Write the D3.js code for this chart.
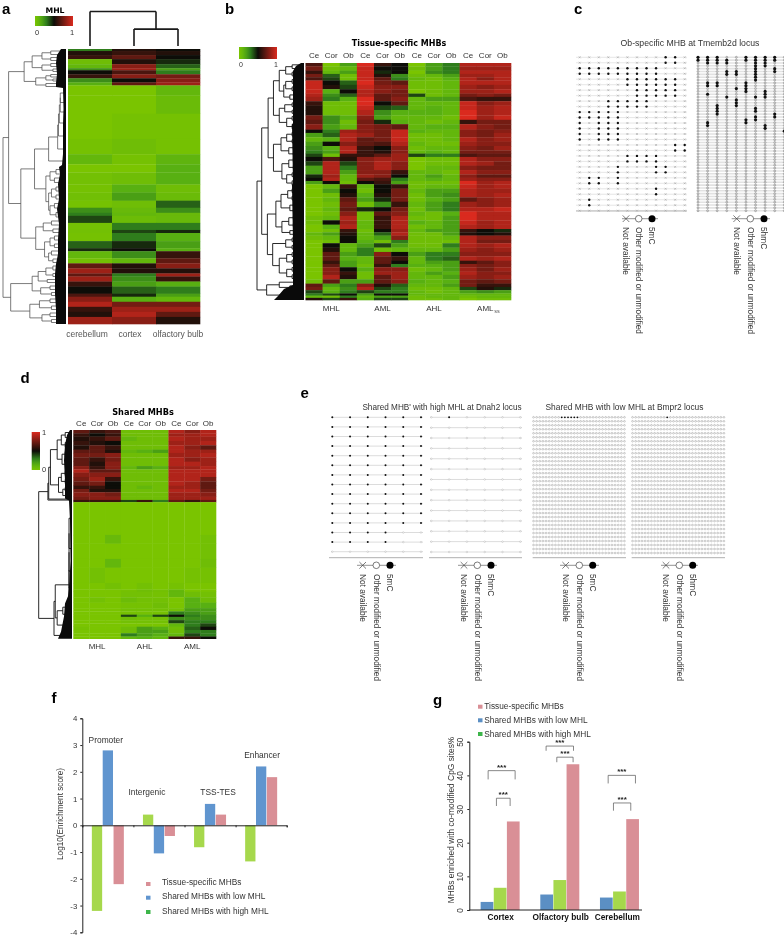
<!DOCTYPE html>
<html><head><meta charset="utf-8">
<style>html,body{margin:0;padding:0;background:#fff}svg{display:block;filter:blur(.3px)}text{font-family:"Liberation Sans",Arial,sans-serif;fill:#333}</style>
<script src="https://cdn.jsdelivr.net/npm/d3@7"></script></head><body><svg id="c" width="784" height="938"></svg>
<script>
// ---- panel a data
const aColumns=["cerebellum","cortex","olfactory bulb"];
const aSpans=[2,4,4,5,4,2,4,4,4,3,10,18,25,15,10,8,12,8,8,7,5,3,7,7,3,8,7,3,7,5,5,5,3,5,5,7,3,5,5,5,5,7];
const aCere=[3,5.5,6,.5,1,2.5,5,6,2.5,1.5,0,0,0,.2,1,0,.3,.2,.4,.2,2.5,3,4,.3,.3,.2,3.5,4.5,1,.3,7,8.5,7,8.5,6,5,6.5,8,9,6,5.5,8.5];
const aCor=[5.5,6,7,5.5,8,8.5,6.5,8,5,7,0,0,.2,.5,.2,0,.5,1.5,2,.5,.8,1,.6,3,4,3,4.5,5,2.5,1,5.5,5.5,3,2.5,2,3.5,4.5,1.5,7.5,8.5,9,8];
const aOb=[5,5.5,5,4.5,3.5,2,3,7.5,8,8.5,1,.7,.2,.2,1.2,1.5,1.5,.5,.7,3.5,2.5,.8,.8,3,4.5,1.5,2,1.5,6,7,8,5.5,8.5,6,1.5,3,2,1,7.5,8.5,7,5.5];
const treeA=[100,
 [89,
  [60,[46,[30,[17,4,3],[17,3,3]],[30,[17,3,3],[14,2,3]]],[40,[24,[17,3,2],[14,2,2]],[24,3,3]]],
  [66,
   [42,
    [20,[8,[7,[6,[5,[5,10,9],10],12],14],12],12],
    [24,[18,[10,5,4],[12,4,5]],[20,[16,[10,4,4],[10,4,4]],[18,[12,5,4],[10,5,4]]]]],
   [40,[28,[16,4,4],[14,4,3]],[26,[18,[12,4,4],[12,4,3]],[20,[16,4,4],[14,4,3]]]]]],
 [85,
  [46,[36,[24,[14,4,4],[14,3,3]],[22,3,3]],[32,[18,4,3],[16,3,3]]],
  [50,[34,[18,4,3],[16,4,3]],[30,[18,4,3],[16,3,3]]]]];
const treeAColumns=[100,1,[49,1,1]];
const aFringe=[[0,5],[6,9],[14,10],[25,9],[34,10],[38,10],[39,3],[60,2.5],[75,3],[90,3],[105,3],[116,4],[118,7],[125,6],[135,8],[150,7],[160,9],[175,7],[190,8],[205,8],[215,10],[225,11],[245,11],[260,10],[275,10]];
// ---- panel b data
const bColumns=["Ce","Cor","Ob","Ce","Cor","Ob","Ce","Cor","Ob","Ce","Cor","Ob"];
const bGroups=["MHL","AML","AHL","AML"];
const bSpans=[3,4,3,3,3,4,4,4,3,4,4,4,5,4,4,5,3,4,4,4,4,3,3,4,4,4,4,3,3,3,4,4,4,4,5,4,4,4,4,4,3,3,4,3,4,4,4,4,3,3,4,3,4,4,3,3,3,2,2,2];
const bRows=[
[6.5,0,2,10,6,5,0,2,3,9,9,9],[7.5,.5,1,9.5,5,5,.5,2,3,8.5,8.5,8.5],[6,1,2,9.5,4.5,5,0,2.5,3,9,9,9],[7.5,3.5,.5,9.5,5.5,2.5,.5,1,2,8.5,8.5,9],
[6.5,4,.5,9.5,7,3,1,.5,1.5,9,8,9],[9.5,5,3.5,10,7.5,7,.5,.5,1,9,9,9],[9.5,5.5,4,9.5,8,8,.5,.5,1,8.5,8,8.5],[9.5,1.5,5,9,8,7.5,0,.5,1,8.5,8.5,9],
[9,2.5,3.5,9,7,7.5,4,.5,1,7.5,8,7.5],[8.5,3,1.5,10,7,8,1,2,2,6.5,6,6],[6,.5,.5,10,5,7,1,1,1,9.5,8,8.5],[5.5,.5,.5,9.5,4,3.5,1,1.5,1,9.5,8.5,9],
[5.5,.5,.5,9,2.5,1.5,1.5,1.5,1,10,8.5,9],[7.5,2.5,1.5,8,2,1,1,1,.5,10,8.5,9.5],[7,2.5,.5,7.5,4.5,1.5,1,.5,1,6,7.5,7.5],[8,2,1,8,7.5,7,1,1.5,1.5,9,8,7.5],
[5,3,8.5,8,7.5,9.5,1.5,1,1,8,7.5,8],[2,3.5,9,8.5,7.5,9.5,.5,.5,1,8,7.5,8.5],[1,1.5,9,7,7.5,9.5,.5,.5,1,9,8,8.5],[2,5,8,7,6.5,9,1,.5,.5,8.5,8,8],
[2.5,1.5,9,6,5,8,.5,1,1,8,7.5,8.5],[3,2,9,6,5.5,8,1,1.5,1,7.5,7.5,7.5],[4,.5,6,6,7,8.5,4,3,3,6.5,7,7],[5,6.5,5.5,8,8.5,8.5,0,.5,.5,9,8,8],
[4,9,4,8,9,8,0,.5,.5,9,8.5,7.5],[2,9,3,8,9,8,0,1,1,8,7.5,7.5],[2,9,2,8,8,6,1,1,.5,9,8,8],[4.5,8.5,1,8.5,8,5,1,2,1,8,7,7],
[5,9,1,7,6.5,3,1,1.5,1,8.5,8,8],[2,5,.5,5,6,2,.5,.5,.5,10,8.5,9],[0,1,6,1,5,6,.5,1,1,9.5,8.5,9],[0,2,5,.5,5,7.5,1,2,2,9,8.5,8.5],
[0,.5,5.5,1.5,5.5,7.5,.5,2,2.5,9,8.5,9],[0,1,7,2,4.5,7.5,.5,1.5,2,7,8,8.5],[0,.5,7.5,.5,2.5,6,1,2,3,8.5,8,8.5],[0,1,7,4.5,5,7.5,.5,2,3,9,9,9.5],
[0,.5,8,.5,7,8,1,.5,1.5,10,9,9],[.5,1,9,.5,6,9,.5,.5,2,10,9,9],[.5,5,8.5,1,6,9,1.5,1,2,9.5,8.5,9],[0,1.5,9,1,6,9,.5,1,2,9,8.5,9],
[0,.5,6,.5,5,8.5,1,2,2,6,5,4.5],[1,2,5.5,1,3.5,9,.5,.5,2,5.5,5,5.5],[.5,1,5,1,2,8,.5,.5,1,9,8,8],[0,.5,5,1.5,.5,3,.5,.5,.5,9,7.5,7.5],
[0,5,1,2,4,2,.5,.5,3,9,8.5,9],[0,5.5,1,3,.5,1,1,1,2,8.5,8,8.5],[0,7,2,3,8,5,2,3,3,8,8,8],[0,7,1.5,1,7,6,1,3,3.5,9,8.5,9],
[0,6,2,1,7,5,1,2,2,6,7,8],[0,7,2,.5,6,3,1.5,1.5,2,8,7.5,8],[0,8,5,1.5,8,8,.5,1,2,8.5,7.5,8.5],[0,8,6,.5,8.5,8.5,1,2,1.5,9,8,8],
[0,9,5.5,.5,7,8.5,1,1,2,8.5,8,8.5],[.5,7,2,2,7,8,1.5,1,1.5,7.5,7,7.5],[7,2,3,8,5.5,3.5,1,1,2,7.5,6,6],[7.5,1,2.5,9,4,3,.5,.5,1,4,5.5,4.5],
[4,1.5,3,4,3,3,1,.5,1,2,2.5,2],[3,4,5,2,5,5,1,1,1,1,1,1],[1,.5,3,1,2,2,.5,1,1,.5,1,1],[5.5,4,6,1.5,4,4,.5,.5,1,0,.5,.5]];
const treeB=[100,
 [86,
  [68,
   [54,
    [40,[26,[14,3,3],[14,3,3]],[30,[26,[14,3,3],[14,3,3]],[18,4,3]]],
    [40,[28,[14,3,3],[14,3,2]],[24,[14,3,3],[14,4,3]]]],
   [54,
    [36,[24,[14,3,3],[14,3,2]],[20,[12,3,3],[12,2,2]]],
    [34,[20,[12,3,3],[12,3,3]],[24,[14,3,3],[14,4,3]]]]],
  [70,
   [48,[36,[22,[14,3,3],[14,3,3]],[18,[12,3,2],[12,2,3]]],[34,[20,[12,3,3],[12,3,3]],[18,3,3]]],
   [56,[26,[14,3,3],[14,3,3]],[40,[24,[14,3,3],[14,3,3]],[24,[14,3,3],[14,3,3]]]]]],
 [72,[40,3,[18,3,2]],[30,[16,2,2],[14,2,2]]]];
const bFringe=[[0,3],[3,8],[8,11],[60,11],[62,12],[120,11],[122,12],[180,11],[222,11],[226,20],[233,26],[237,30]];
// ---- panel d data
const dColumns=["Ce","Cor","Ob","Ce","Cor","Ob","Ce","Cor","Ob"];
const dGroups=["MHL","AHL","AML"];
const dSpans=[3,3,4,4,4,3,4,4,4,3,3,4,4,4,3,3,4,3,2,30,8,14,8,14,6,2,5,5,5,3,3,2,3,3,3,3,3,3,2];
const dRows=[
[7,6,6.5,.5,.5,.5,9,8,9],[6,5,6,.5,.5,.5,8.5,8.5,9],[5.5,6,7,1,.5,.5,9,8.5,8.5],[6,5.5,5,.5,.5,.5,8.5,8.5,9],[5.5,7,6,.5,.5,.5,9,8,7],
[7,7,5.5,1,1.5,2,9,8.5,8.5],[7.5,7.5,8,.5,.5,.5,8.5,8.5,9],[7,6,7.5,.5,.5,.5,9,8,8.5],[7,5.5,8,.5,.5,.5,9,9,8.5],[8,6,8,1,2,1.5,8.5,8.5,9],
[9,7,7,.5,.5,.5,9,9,9],[8,8,8,.5,.5,.5,9,9,9],[7.5,8.5,6,.5,.5,.5,9,9,7.5],[7,7.5,5,.5,.5,.5,9,8.5,7],[6,6,5,.5,1,.5,8.5,8.5,7],
[7.5,5.5,5.5,.5,.5,.5,9,9,7.5],[8,8,7.5,.5,.5,.5,8.5,8.5,8],[7.5,8,8,.5,.5,.5,8.5,8.5,8.5],[6,6,6,4,6,3,7,6,7],
[0,0,0,0,0,0,0,0,0],[0,0,.8,0,0,0,0,0,.3],[0,0,0,0,0,0,0,0,.3],[0,0,1,0,0,0,0,0,.5],[0,.3,0,0,0,0,0,.2,.2],[0,0,.3,0,.3,0,.2,0,0],
[0,0,0,.2,.5,.3,1,0,0],[0,0,0,.3,.3,.2,1,.5,.3],[0,.3,0,.6,.3,.3,0,1.5,.5],[0,0,0,.2,.2,.5,0,1.5,1.5],[0,0,0,.3,.3,.3,.3,2,2],
[0,0,0,.2,.2,.2,3,2.5,2],[0,0,0,4,1.5,4,5,3,2.5],[0,0,0,.5,.3,.3,2.5,2.5,2.5],[0,0,0,.3,.3,.3,4,3,3],[0,0,0,0,0,0,1,3,4],
[.2,0,0,.5,2,1.5,.5,3.5,5],[0,0,0,.5,2,2,.5,3,3],[0,0,0,3,2,1.5,1,4,3],[0,0,0,1,1.5,1,6,6,5]];
const treeD=[100,
 [65,[62,[56,
   [34,[22,[12,5,5],[12,5,4]],[20,[12,5,5],[10,5,5]]],
   [30,[22,[12,4,4],[12,4,4]],[18,[12,4,3],[10,3,3]]]],1],1],
 [44,[40,[4,[4,[4,[4,35,25],20],14],8],
   [34,[18,[10,4,3],[10,4,3]],[16,[10,4,4],[8,3,3]]]],
   [16,[8,2,2],3]]];
const dFringe=[[0,2],[5,5],[15,7],[30,8],[50,7],[68,7],[70,3],[90,2],[130,1.5],[150,2.5],[165,4],[172,7],[185,8],[200,11],[207,14]];
// ---- panels c and e: per-read lists of methylated CpG indices
const cLeftFilled=[[9,10],[9,10],[0,1,2,3,4,5,6,7,8],[0,1,2,3,4,5,6,7,8],[5,6,7,8,9,10],[5,6,7,8,9,10],[6,7,8,9,10],[6,7,8,9,10],[3,4,5,6,7],[3,4,5,6,7],
 [0,1,2,3,4],[0,1,2,3,4],[0,2,3,4],[0,2,3,4],[0,2,3,4],[0,2,3,4],[10,11],[10,11],[5,6,7,8],[5,6,7,8],[4,8,9],[4,8,9],[1,2,4],[1,2,4],[8],[8],[1],[1],[]];
const cRightFilledByColumn=[[0,1],[0,1,2,9,10,13,23,24],[0,1,2,9,10,17,18,19,20],[1,2,5,6,14],[5,6,11,15,16,17],[0,1,9,10,11,12,22,23],[0,1,2,3,4,5,6,7,8,14,18,19,21,22],[0,1,2,3,12,13,14,24,25],[0,1,4,5,20,21],[26]];
const e1Filled=[6,6,6,6,6,6,6,6,6,6,6,6,4,4,0];
const e2FilledRow=[1];
const e3FilledTop=[9,10,11,12,13,14];
const e4FilledTop=[11];
const legendMC=["Not available","Other modified or unmodified","5mC"];
const legendHMC=["Not available","Other modified or unmodified","5hmC"];
// ---- panel f data
const fCategories=["Promoter","Intergenic","TSS-TES","Enhancer"];
const fHigh=[-3.2,.4,-.82,-1.35];
const fLow=[2.8,-1.05,.8,2.2];
const fTissue=[-2.2,-.4,.4,1.8];
const fLabelLevel=[3.18,1.23,1.23,2.6];
const seriesNames=["Tissue-specific MHBs","Shared MHBs with low MHL","Shared MHBs with high MHL"];
// ---- panel g data
const gCategories=["Cortex","Olfactory bulb","Cerebellum"];
const gLow=[2.4,4.6,3.7];
const gHigh=[6.6,8.9,5.5];
const gTissue=[26.3,43.3,27];
const yTicksF=[-4,-3,-2,-1,0,1,2,3,4];
const yTicksG=[0,10,20,30,40,50];

// ---- drawing
const svg=d3.select("#c");
const heat=d3.scaleLinear().domain([0,1.5,3,5,10]).range(["#7ac400","#58b012","#2f7d1c","#0d0d08","#da2a1e"]);
function txt(x,y,s,o={}){
 const t=svg.append("text").attr("x",x).attr("y",y).text(s).attr("font-size",o.size||8)
  .attr("text-anchor",o.anchor||"middle");
 if(o.weight)t.attr("font-weight",o.weight);
 if(o.family)t.style("font-family",o.family);
 if(o.fill)t.style("fill",o.fill);
 if(o.rot!==undefined)t.attr("transform",`rotate(${o.rot} ${x} ${y})`);
 return t;
}
function heatmap(rows,spans,x0,x1,y0,y1){
 const n=rows[0].length;
 const x=d3.scaleBand().domain(d3.range(n)).range([x0,x1]);
 const cum=d3.cumsum(spans);
 const y=d3.scaleLinear().domain([0,cum[cum.length-1]]).range([y0,y1]);
 rows.forEach((r,i)=>{
  const top=y(i?cum[i-1]:0),bot=y(cum[i]);
  svg.append("g").selectAll("rect").data(r).join("rect")
   .attr("x",(d,j)=>x(j)).attr("width",x.bandwidth()+.3).attr("y",top).attr("height",bot-top+.3)
   .attr("fill",d=>heat(d));
 });
 return x;
}
function layout(node,st){
 if(typeof node==="number"){const s=st.c;st.c+=node;return{span:node,a:s,b:st.c,p:s+node/2};}
 const kids=node.slice(1).map(k=>layout(k,st));
 return{h:node[0],kids,p:(kids[0].p+kids[kids.length-1].p)/2};
}
function tree(spec,o){
 const st={c:0};const root=layout(spec,st);
 const pos=d3.scaleLinear().domain([0,st.c]).range(o.range);
 const depth=d3.scalePow().exponent(o.exp||1).domain([0,100]).range(o.depth);
 const pt=o.top?(h,p)=>[pos(p),depth(h)]:(h,p)=>[depth(h),pos(p)];
 const path=d3.path();
 (function walk(n){
  if(!n.kids)return;
  const a=pt(n.h,n.kids[0].p),b=pt(n.h,n.kids[n.kids.length-1].p);
  path.moveTo(...a);path.lineTo(...b);
  n.kids.forEach(k=>{
   const s=pt(n.h,k.p),e=pt(k.kids?k.h:0,k.p);
   path.moveTo(...s);path.lineTo(...e);
   walk(k);
  });
 })(root);
 const g=svg.append("g");
 g.append("path").attr("d",path.toString()).attr("fill","none").attr("stroke",o.stroke||"#111").attr("stroke-width",o.width||.8);
 if(o.fringe){
  const fy=d3.scaleLinear().domain([0,o.fringe[o.fringe.length-1][0]]).range(o.range);
  g.append("path").attr("fill","#0a0a0a").attr("d",d3.area().x0(o.edge).x1(d=>o.edge-d[1]).y(d=>fy(d[0]))(o.fringe));
 }
}
const defs=svg.append("defs");
function grad(id,vertical){
 const g=defs.append("linearGradient").attr("id",id);
 if(vertical)g.attr("x1",0).attr("y1",1).attr("x2",0).attr("y2",0);
 d3.range(0,11).forEach(v=>g.append("stop").attr("offset",v/10).attr("stop-color",heat(v)));
}
grad("gh",false);grad("gv",true);

// panel letters
[["a",2,13.5],["b",225,14],["c",574,13.5],["d",20.5,383],["e",300.5,398],["f",51.5,703],["g",433,705]].forEach(d=>
 txt(d[1],d[2],d[0],{size:15,weight:"bold",anchor:"start",fill:"#000"}));

// panel a
svg.append("rect").attr("x",35).attr("y",16).attr("width",38).attr("height",10).attr("fill","url(#gh)");
txt(55,13,"MHL",{size:7.7,weight:"bold",family:"DejaVu Sans",fill:"#000"});
txt(37,35,"0",{size:7.5});txt(72,35,"1",{size:7.5});
tree(treeAColumns,{top:true,range:[68,200],depth:[46,11.5],width:1.6,stroke:"#1a1a1a"});
heatmap(d3.zip(aCere,aCor,aOb),aSpans,68,200,49,324);
tree(treeA,{range:[49,324],depth:[66,3],exp:.8,edge:66,fringe:aFringe,stroke:"#444",width:.7});
[87,130,178].forEach((x,i)=>txt(x,337,aColumns[i],{size:8.5,fill:"#555"}));

// panel b
svg.append("rect").attr("x",239).attr("y",47).attr("width",38).attr("height",12).attr("fill","url(#gh)");
txt(241,67,"0",{size:7});txt(276,67,"1",{size:7});
txt(399,46,"Tissue-specific MHBs",{size:8,weight:"bold",family:"DejaVu Sans",fill:"#000"});
const bx=heatmap(bRows,bSpans,305.5,511,63,300);
bColumns.forEach((c,i)=>txt(bx(i)+bx.bandwidth()/2,58,c,{size:8}));
tree(treeB,{range:[63,300],depth:[304,257],exp:.7,edge:304,fringe:bFringe,width:.9});
bGroups.forEach((g,i)=>{
 const cx=bx(i*3+1)+bx.bandwidth()/2;
 txt(cx,311,g,{size:8});
 if(i===3)txt(cx+9,313,"SS",{size:4,anchor:"start"});
});

// methylation read plots
function reads(o){
 const g=svg.append("g");
 const y=d3.scalePoint().domain(d3.range(o.rows)).range(o.y);
 const x=d3.scalePoint().domain(d3.range(o.cols)).range(o.x);
 g.selectAll("line.r").data(d3.range(o.rows)).join("line").attr("x1",o.lx[0]).attr("x2",o.lx[1])
  .attr("y1",d=>y(d)).attr("y2",d=>y(d)).attr("stroke",o.line||"#c9c9c9").attr("stroke-width",o.lw||.6);
 const pts=d3.cross(d3.range(o.rows),d3.range(o.cols));
 const empty=pts.filter(([r,c])=>!o.filled(r,c));
 if(o.cross){
  g.append("path").attr("d",empty.map(([r,c])=>{const a=x(c),b=y(r),k=o.r;return`M${a-k},${b-k}L${a+k},${b+k}M${a-k},${b+k}L${a+k},${b-k}`}).join(""))
   .attr("stroke",o.ec||"#999").attr("stroke-width",.5).attr("fill","none");
 }else{
  g.selectAll("circle.e").data(empty).join("circle").attr("cx",d=>x(d[1])).attr("cy",d=>y(d[0])).attr("r",o.r)
   .attr("fill",o.ef||"#fff").attr("stroke",o.ec||"#aaa").attr("stroke-width",o.sw||.4);
 }
 g.selectAll("circle.f").data(pts.filter(([r,c])=>o.filled(r,c))).join("circle").attr("cx",d=>x(d[1])).attr("cy",d=>y(d[0])).attr("r",o.fr||1.2).attr("fill","#111");
 if(o.base)g.append("line").attr("x1",o.base[0]).attr("x2",o.base[1]).attr("y1",o.base[2]).attr("y2",o.base[2]).attr("stroke",o.baseColor||"#aaa").attr("stroke-width",.8);
}
function methLegend(xs,ly,labels,ty,lx){
 const g=svg.append("g");
 g.append("line").attr("x1",lx[0]).attr("x2",lx[1]).attr("y1",ly).attr("y2",ly).attr("stroke","#666").attr("stroke-width",.7);
 const k=3.3;
 g.append("path").attr("d",`M${xs[0]-k},${ly-k}L${xs[0]+k},${ly+k}M${xs[0]-k},${ly+k}L${xs[0]+k},${ly-k}`).attr("stroke","#444").attr("stroke-width",.7);
 g.append("circle").attr("cx",xs[1]).attr("cy",ly).attr("r",3.3).attr("fill","#fff").attr("stroke","#444").attr("stroke-width",.7);
 g.append("circle").attr("cx",xs[2]).attr("cy",ly).attr("r",3.5).attr("fill","#000");
 labels.forEach((s,i)=>txt(xs[i]-2.8,ty,s,{size:8.3,anchor:"start",rot:90}));
}
// panel c
txt(690,46,"Ob-specific MHB  at  Tmemb2d locus",{size:8.7});
reads({rows:29,cols:12,x:[579.7,684.7],y:[57.3,210.7],lx:[576,687],cross:true,r:1,filled:(r,c)=>cLeftFilled[r].includes(c),fr:1.2,base:[576,687,211],line:"#d5d5d5"});
reads({rows:55,cols:10,x:[698,784.3],y:[57.3,210.7],lx:[697,784],r:1,sw:.7,ec:"#999",ef:"#ccc",filled:(r,c)=>cRightFilledByColumn[c].includes(r),fr:1.6,line:"#e2e2e2",lw:1.6});
methLegend([626,638.7,652],218.7,legendMC,227,[622,658]);
methLegend([736.7,750.3,764],218.7,legendHMC,227,[731.7,770]);

// panel d
txt(143,415,"Shared MHBs",{size:8.2,weight:"bold",family:"DejaVu Sans",fill:"#000"});
const dx=heatmap(dRows,dSpans,73.3,216,430,638.7);
dColumns.forEach((c,i)=>txt(dx(i)+dx.bandwidth()/2,425.5,c,{size:8}));
svg.append("rect").attr("x",31.7).attr("y",432).attr("width",8.3).attr("height",38).attr("fill","url(#gv)");
txt(42,435,"1",{size:7.5,anchor:"start"});txt(42,472,"0",{size:7.5,anchor:"start"});
tree(treeD,{range:[430,638.7],depth:[72,38.7],exp:.75,edge:72,fringe:dFringe,width:.9});
dGroups.forEach((g,i)=>txt(dx(i*3+1)+dx.bandwidth()/2,648.5,g,{size:8}));

// panel e
txt(442,409.5,"Shared MHB' with high MHL at Dnah2 locus",{size:8.2});
txt(624.5,409.5,"Shared MHB with low MHL at Bmpr2 locus",{size:8.4});
reads({rows:15,cols:6,x:[332.3,421],y:[417.3,551.7],lx:[331,423],r:.8,fr:1,filled:(r,c)=>c<e1Filled[r],base:[329,423,557.7],baseColor:"#999",line:"#c4c4c4"});
reads({rows:14,cols:6,x:[431.3,520.3],y:[417.3,552],lx:[430,522],r:.8,fr:1,filled:(r,c)=>e2FilledRow[r]===c,base:[429,522,557.7],baseColor:"#999",line:"#c4c4c4"});
reads({rows:35,cols:30,x:[533.5,624.5],y:[417.3,553],lx:[532.7,625],r:.85,sw:.4,ec:"#8a8a8a",fr:.9,line:"#bdbdbd",lw:.4,filled:(r,c)=>r===0&&e3FilledTop.includes(c),base:[532.7,626,557.7],baseColor:"#999"});
reads({rows:35,cols:30,x:[632.5,724],y:[417.3,553],lx:[631.7,724.3],r:.85,sw:.4,ec:"#8a8a8a",fr:.9,line:"#bdbdbd",lw:.4,filled:(r,c)=>r===0&&e4FilledTop.includes(c),base:[631.7,725,557.7],baseColor:"#999"});
methLegend([362.7,376.3,390],565.3,legendMC,574,[357,396]);
methLegend([464,477.3,491],565.3,legendHMC,574,[458,497]);
methLegend([565.7,579.3,592.7],565.3,legendMC,574,[560,599]);
methLegend([666,679.3,692.7],565.3,legendHMC,574,[661,698]);

// panel f
const fy=d3.scaleLinear().domain([-4,4]).range([932.3,718.3]);
const fx=d3.scaleLinear().domain([0,4]).range([82.3,286.7]);
const fBand=d3.scaleBand().domain([0,1,2]).range([-16,16]).paddingInner(.05);
const fColors=["#a6d84c","#6095cf","#d98f96"];
[fHigh,fLow,fTissue].forEach((vals,s)=>{
 svg.append("g").selectAll("rect").data(vals).join("rect")
  .attr("x",(d,i)=>fx(i+.5)+fBand(s)).attr("width",fBand.bandwidth())
  .attr("y",d=>fy(Math.max(0,d))).attr("height",d=>Math.abs(fy(d)-fy(0))).attr("fill",fColors[s]);
});
const fyAxis=svg.append("g").attr("transform","translate(82.3,0)").call(d3.axisLeft(fy).tickValues(yTicksF).tickSize(2).tickFormat(String));
const fxAxis=svg.append("g").attr("transform",`translate(0,${fy(0)})`).call(d3.axisBottom(fx).tickValues([0,1,2,3,4]).tickSize(2).tickFormat(""));
[fyAxis,fxAxis].forEach(a=>{a.selectAll("path,line").attr("stroke","#222");a.selectAll("text").attr("font-size",7.8).attr("font-family",null)});
fyAxis.selectAll("text").attr("x",-5);
[-2,-12,8,1].forEach((dx,i)=>txt(fx(i+.5)+dx,fy(fLabelLevel[i])+2.5,fCategories[i],{size:8.4}));
txt(62.5,814,"Log10(Enrichment score)",{size:8.2,rot:-90});
[["#d98f96",884],["#6095cf",897.7],["#3db54a",912]].forEach((d,i)=>{
 svg.append("rect").attr("x",146).attr("y",d[1]-2).attr("width",4.5).attr("height",4).attr("fill",d[0]);
 txt(162,[885,898.5,913.5][i],seriesNames[i],{size:8.3,anchor:"start"});
});

// panel g
const gy=d3.scaleLinear().domain([0,50]).range([910,741.7]);
const gx=d3.scaleBand().domain(gCategories).range([470.3,649.3]);
const gInner=d3.scaleBand().domain([0,1,2]).range([-19.7,19.7]);
const gColors=["#5b8fc4","#a6d84c","#d98f96"];
[gLow,gHigh,gTissue].forEach((vals,s)=>{
 svg.append("g").selectAll("rect").data(vals).join("rect")
  .attr("x",(d,i)=>gx(gCategories[i])+gx.bandwidth()/2+gInner(s)+.2).attr("width",gInner.bandwidth()-.4)
  .attr("y",d=>gy(d)).attr("height",d=>gy(0)-gy(d)).attr("fill",gColors[s]);
});
const gyAxis=svg.append("g").attr("transform","translate(469.3,0)").call(d3.axisLeft(gy).tickValues(yTicksG).tickSize(2).tickFormat(d3.format("d")));
gyAxis.selectAll("path,line").attr("stroke","#222");
gyAxis.selectAll("text").attr("font-size",8.4).attr("font-family",null).attr("text-anchor","middle").attr("dy",0).attr("x",0).attr("y",0)
 .attr("transform","translate(-6,0) rotate(-90)");
svg.append("line").attr("x1",469.3).attr("x2",642).attr("y1",gy(0)).attr("y2",gy(0)).attr("stroke","#222");
gCategories.forEach((c,i)=>txt([500.7,560.7,617.3][i],920,c,{size:8.3,weight:"bold",fill:"#111"}));
txt(453.5,820,"MHBs enriched with co-modified CpG sites%",{size:8.4,rot:-90});
[["#d98f96",706.7],["#5b8fc4",720.3],["#3db54a",734]].forEach((d,i)=>{
 svg.append("rect").attr("x",478).attr("y",d[1]-2).attr("width",4.5).attr("height",4).attr("fill",d[0]);
 txt(484.3,d[1]+2.7,seriesNames[i],{size:8.3,anchor:"start"});
});
// significance brackets: group index, horizontal offsets from group centre, levels in axis units
[[0,-12,15,41.4,38.8],[0,-3.7,10,33.2,30.9],[1,-13.7,13.7,48.7,47.3],[1,-3,13.3,45.4,43.9],[2,-11.3,16,40,37.6],[2,-6,11.3,31.8,29.5]].forEach(b=>{
 const c=gx(gCategories[b[0]])+gx.bandwidth()/2,x1=c+b[1],x2=c+b[2],t=gy(b[3]),e=gy(b[4]);
 svg.append("path").attr("d",`M${x1},${e}V${t}H${x2}V${e}`).attr("fill","none").attr("stroke","#555").attr("stroke-width",.7);
 txt((x1+x2)/2,t-1,"***",{size:8,weight:"bold",fill:"#222"});
});
</script></body></html>
